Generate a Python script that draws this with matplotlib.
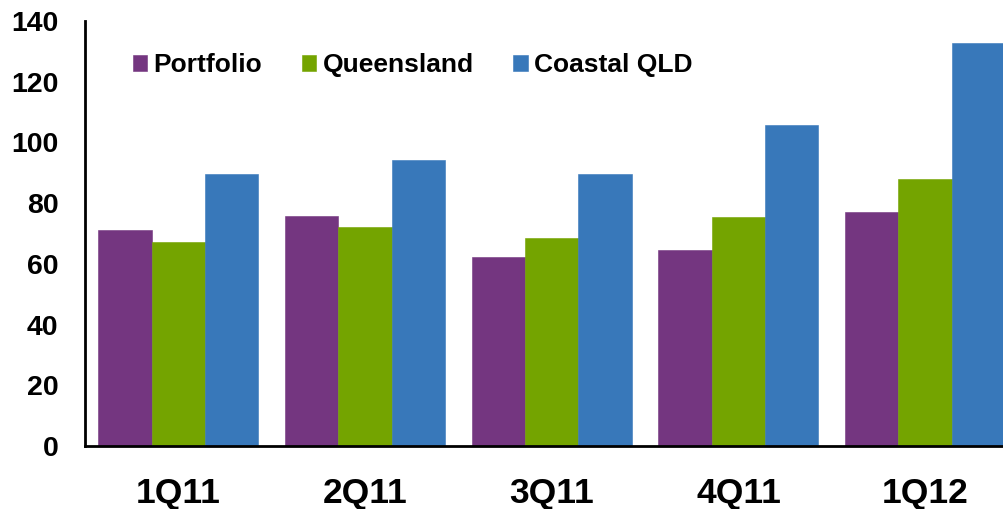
import matplotlib
matplotlib.use("Agg")
import matplotlib.pyplot as plt
import numpy as np

categories = ["1Q11", "2Q11", "3Q11", "4Q11", "1Q12"]
series_names = ["Portfolio", "Queensland", "Coastal QLD"]
portfolio = [71.1, 75.8, 62.4, 64.6, 77.1]
queensland = [67.1, 72.0, 68.6, 75.5, 87.8]
coastal_qld = [89.5, 94.2, 89.6, 105.6, 132.6]
colors = ["#743680", "#74A400", "#3878BA"]
yticks = [0, 20, 40, 60, 80, 100, 120, 140]

plt.rcParams['font.family'] = ['Liberation Sans', 'DejaVu Sans']
plt.rcParams['font.weight'] = 'bold'

W, H = 1004, 509
fig = plt.figure(figsize=(W / 100, H / 100), dpi=100)
left_px, right_px, top_px, bot_px = 85, 85 + 933.5, 21, 446
ax = fig.add_axes([left_px / W, (H - bot_px) / H, (right_px - left_px) / W, (bot_px - top_px) / H])

x = np.arange(len(categories))
w = 2 / 7
for i, (vals, name, c) in enumerate(zip([portfolio, queensland, coastal_qld], series_names, colors)):
    ax.bar(x + (i - 1) * w, vals, width=w, color=c, label=name, edgecolor=c, linewidth=0.4)

ax.set_xlim(-0.5, len(categories) - 0.5)
ax.set_ylim(0, 140)
ax.set_yticks(yticks)
ax.set_yticklabels([str(v) for v in yticks], fontsize=20.5, fontweight='bold')
ax.set_xticks(x)
ax.set_xticklabels(categories, fontsize=25.5, fontweight='bold')
ax.tick_params(axis='y', length=0, pad=19)
ax.tick_params(axis='x', length=0, pad=22)
for s in ['top', 'right']:
    ax.spines[s].set_visible(False)
for s in ['left', 'bottom']:
    ax.spines[s].set_linewidth(2.0)
    ax.spines[s].set_color('black')

leg = ax.legend(loc='center left', bbox_to_anchor=(132.7 / W, 1 - 65 / H), bbox_transform=fig.transFigure,
                ncol=3, frameon=False, handlelength=0.55, handleheight=0.55,
                handletextpad=0.24, columnspacing=1.5, borderpad=0, borderaxespad=0,
                prop={'weight': 'bold', 'size': 19})

fig.savefig("out.png", dpi=100)
